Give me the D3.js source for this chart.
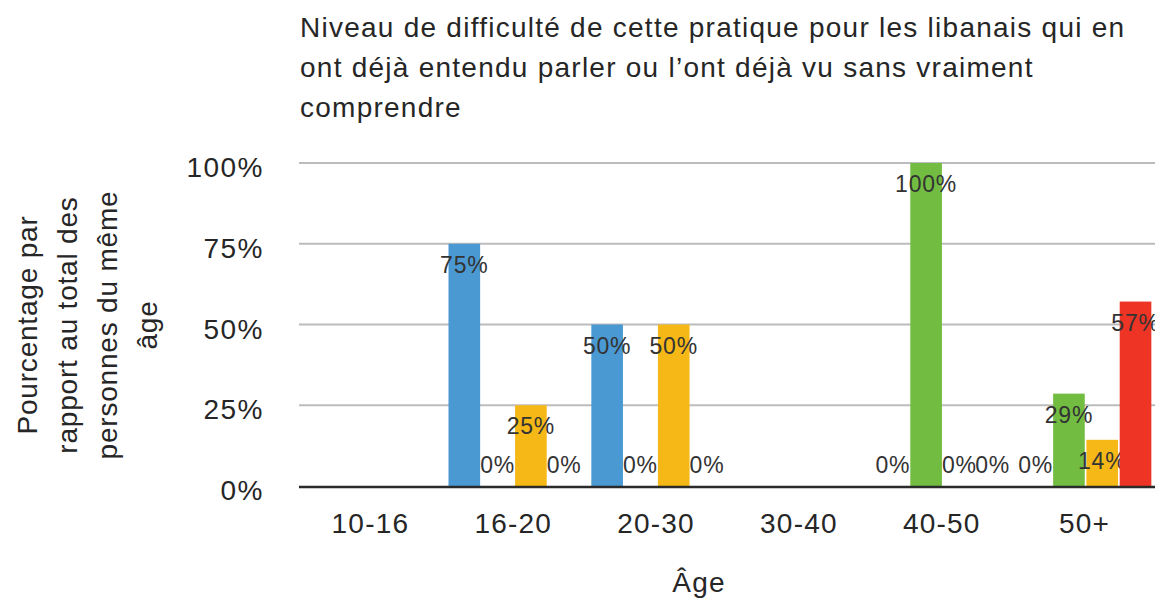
<!DOCTYPE html>
<html>
<head>
<meta charset="utf-8">
<script src="https://cdn.jsdelivr.net/npm/d3@7"></script>
<style>
  body { margin: 0; background: #fff; }
  svg text { font-family: "Liberation Sans", Arial, sans-serif; fill: #262626; }
</style>
</head>
<body>
<div id="chart"></div>
<script>
// categories (age groups) and series (difficulty levels)
var ageGroups = ["10-16", "16-20", "20-30", "30-40", "40-50", "50+"];
var seriesNames = ["Niveau 1", "Niveau 2", "Niveau 3", "Niveau 4"];
var seriesColors = ["#4a99d3", "#72bd41", "#f5b817", "#ee3425"];

// values in %, null = no answer for that age group
var serie1 = [null, 75, 50, null, 0, 0];
var serie2 = [null, 0, 0, null, 100, 28.6];
var serie3 = [null, 25, 50, null, 0, 14.3];
var serie4 = [null, 0, 0, null, 0, 57.1];

var yTicks = [0, 25, 50, 75, 100];

var titleLines = [
    "Niveau de difficulté de cette pratique pour les libanais qui en",
    "ont déjà entendu parler ou l’ont déjà vu sans vraiment",
    "comprendre"
];
var yTitleLines = ["Pourcentage par", "rapport au total des", "personnes du même", "âge"];
var xTitle = "Âge";

var allSeries = [serie1, serie2, serie3, serie4];

var width = 1155, height = 599;
var margin = { top: 163, right: 0, bottom: 113, left: 299 };

var svg = d3.select("#chart").append("svg")
    .attr("width", width)
    .attr("height", height);

var x0 = d3.scaleBand()
    .domain(ageGroups)
    .range([margin.left, width + 1])
    .padding(0);

var x1 = d3.scaleBand()
    .domain(seriesNames)
    .range([5, x0.bandwidth() - 3])
    .padding(0.05);

var y = d3.scaleLinear()
    .domain([0, 100])
    .range([height - margin.bottom, margin.top]);

// gridlines
svg.append("g")
    .selectAll("line")
    .data(yTicks.filter(function(d) { return d > 0; }))
    .enter().append("line")
    .attr("x1", margin.left)
    .attr("x2", width)
    .attr("y1", function(d) { return y(d); })
    .attr("y2", function(d) { return y(d); })
    .attr("stroke", "#bcbcbe")
    .attr("stroke-width", 2);

// y tick labels
svg.append("g")
    .selectAll("text")
    .data(yTicks)
    .enter().append("text")
    .attr("x", 264)
    .attr("y", function(d) { return y(d) + 14; })
    .attr("text-anchor", "end")
    .style("font-size", "28px")
    .style("letter-spacing", "1.5px")
    .text(function(d) { return d + "%"; });

// bars
var groups = svg.append("g")
    .selectAll("g")
    .data(ageGroups)
    .enter().append("g")
    .attr("transform", function(d) { return "translate(" + x0(d) + ",0)"; });

var cells = groups.selectAll("g")
    .data(function(d, i) {
        return seriesNames.map(function(s, j) {
            return { series: s, color: seriesColors[j], value: allSeries[j][i] };
        }).filter(function(c) { return c.value !== null; });
    })
    .enter().append("g");

cells.append("rect")
    .attr("x", function(d) { return x1(d.series); })
    .attr("width", x1.bandwidth())
    .attr("y", function(d) { return y(d.value); })
    .attr("height", function(d) { return y(0) - y(d.value); })
    .attr("fill", function(d) { return d.color; });

cells.append("text")
    .attr("x", function(d) { return x1(d.series) + x1.bandwidth() / 2; })
    .attr("y", function(d) { return Math.min(y(d.value) + 29, y(0) - 13); })
    .attr("text-anchor", "middle")
    .style("font-size", "23px")
    .style("letter-spacing", "0.8px")
    .style("fill", "#333")
    .text(function(d) { return Math.round(d.value) + "%"; });

// baseline
svg.append("line")
    .attr("x1", margin.left)
    .attr("x2", width)
    .attr("y1", y(0) + 1)
    .attr("y2", y(0) + 1)
    .attr("stroke", "#2a2a2a")
    .attr("stroke-width", 2.5);

// x tick labels
svg.append("g")
    .selectAll("text")
    .data(ageGroups)
    .enter().append("text")
    .attr("x", function(d) { return x0(d) + x0.bandwidth() / 2; })
    .attr("y", 533)
    .attr("text-anchor", "middle")
    .style("font-size", "28px")
    .style("letter-spacing", "1.2px")
    .text(function(d) { return d; });

// x title
svg.append("text")
    .attr("x", 699)
    .attr("y", 592)
    .attr("text-anchor", "middle")
    .style("font-size", "28px")
    .style("letter-spacing", "1.2px")
    .text(xTitle);

// y title, rotated
var yTitle = svg.append("text")
    .attr("transform", "translate(0,325) rotate(-90)")
    .attr("text-anchor", "middle")
    .style("font-size", "28px")
    .style("letter-spacing", "0.8px");
yTitle.selectAll("tspan")
    .data(yTitleLines)
    .enter().append("tspan")
    .attr("x", 0)
    .attr("y", function(d, i) { return 37 + i * 40; })
    .text(function(d) { return d; });

// chart title
svg.append("g")
    .selectAll("text")
    .data(titleLines)
    .enter().append("text")
    .attr("x", 300)
    .attr("y", function(d, i) { return 37 + i * 40; })
    .style("font-size", "28px")
    .style("letter-spacing", "1.25px")
    .text(function(d) { return d; });
</script>
</body>
</html>
